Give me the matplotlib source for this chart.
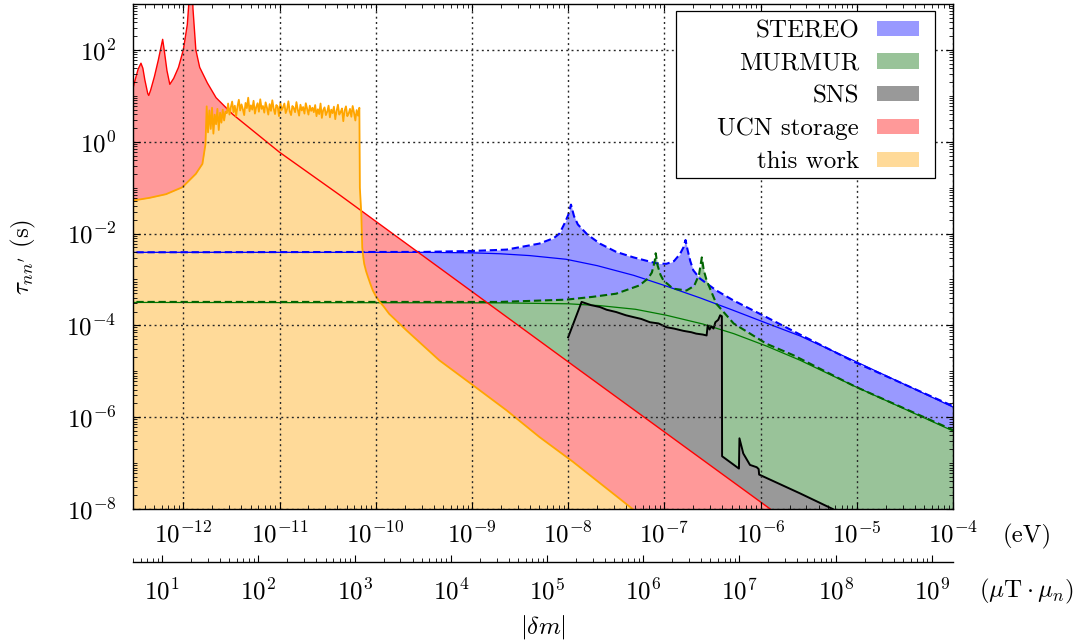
import numpy as np
import matplotlib
matplotlib.use("Agg")
import matplotlib.pyplot as plt
from matplotlib.patches import Patch, Rectangle
from matplotlib.ticker import LogLocator, FixedLocator, FuncFormatter, NullFormatter

plt.rcParams.update({
    "font.family": "cmr10",
    "mathtext.fontset": "cm",
    "axes.formatter.use_mathtext": True,
    "font.size": 18,
    "axes.unicode_minus": False,
})

# ---------------- data (x: |delta m| in eV, y: tau in s) ----------------
ucn_x = [2.95e-13, 3.16e-13, 3.39e-13, 3.63e-13, 3.80e-13, 3.98e-13, 4.27e-13, 4.37e-13,
         4.57e-13, 5.01e-13, 5.50e-13, 5.89e-13, 6.10e-13, 6.31e-13, 6.76e-13, 7.24e-13,
         7.94e-13, 8.91e-13, 1.00e-12, 1.10e-12, 1.15e-12, 1.20e-12, 1.26e-12, 1.35e-12,
         1.48e-12, 1.78e-12, 2.19e-12, 3.24e-12, 1.0e-11, 4.27e-11, 1.32e-8, 1e-4]
ucn_y = [12.6, 22.4, 38.0, 51.3, 39.8, 22.4, 11.2, 10.2,
         13.2, 26.3, 60.3, 120.0, 170.0, 105.0, 35.5, 17.8,
         24.0, 41.7, 100.0, 355.0, 1260.0, 3.0e4, 794.0, 100.0,
         41.7, 19.0, 9.1, 4.0, 0.59, 0.068, 1.05e-5, 1.26e-11]

this_left_x = [2.95e-13, 4.47e-13, 6.61e-13, 9.77e-13, 1.35e-12, 1.58e-12, 1.70e-12]
this_left_y = [0.052, 0.060, 0.072, 0.102, 0.20, 0.33, 0.89]
this_noise_range = (1.75e-12, 6.76e-11)
this_noise_y = [5.9, 1.6, 4.8, 1.9, 5.5, 1.5, 3.9, 2.4, 5.2, 1.8, 4.3, 2.6, 5.0, 2.9, 4.5,
                4.2, 6.8, 3.9, 5.6, 7.5, 4.4, 6.1, 3.6, 5.9, 8.2, 4.8, 6.5, 5.1, 3.8, 7.0,
                5.4, 9.1, 4.6, 6.2, 5.0, 7.8, 4.1, 5.7, 6.9, 4.5, 8.4, 5.2, 6.0, 4.3, 7.2,
                5.5, 3.9, 6.6, 4.7, 8.0, 5.3, 4.0, 6.3, 5.8, 3.6, 7.1, 4.9, 5.6, 6.8, 4.2,
                5.1, 7.6, 4.6, 3.8, 6.0, 5.4, 4.4, 7.3, 5.0, 3.7, 6.4, 4.8, 5.7, 4.1, 6.9,
                5.2, 3.9, 6.1, 4.7, 5.5,
                4.4, 6.3, 3.6, 5.1, 4.0, 6.8, 3.3, 4.9, 5.6, 3.8, 4.5, 6.1, 3.4, 5.0, 4.2,
                5.8, 3.1, 4.7, 6.4, 3.9, 4.4, 5.3, 2.8, 4.8, 5.9, 3.6, 4.1, 5.2, 3.5, 6.0,
                4.3, 2.9, 4.9, 3.7, 5.5]
this_right_x = [6.84e-11, 7.08e-11, 7.24e-11, 7.41e-11, 7.59e-11, 7.94e-11, 8.32e-11, 8.81e-11,
                9.33e-11, 1.0e-10, 1.10e-10, 1.20e-10, 1.38e-10, 2.09e-10, 4.57e-10, 1.02e-9,
                2.29e-9, 5.01e-9, 1.12e-8, 4.68e-8, 1e-7]
this_right_y = [0.1, 0.027, 5.0e-3, 3.16e-3, 2.19e-3, 1.51e-3, 1.12e-3, 7.94e-4,
                5.75e-4, 4.37e-4, 3.24e-4, 2.63e-4, 1.78e-4, 7.76e-5, 1.74e-5, 5.0e-6,
                1.41e-6, 3.72e-7, 1.07e-7, 1.0e-8, 2.8e-9]

sns_x = [1.0e-8, 1.38e-8, 1.74e-8, 2.14e-8, 2.51e-8, 3.16e-8, 3.98e-8, 4.79e-8, 5.75e-8,
         7.08e-8, 8.71e-8, 1.05e-7, 1.26e-7, 1.58e-7, 1.91e-7, 2.14e-7, 2.51e-7, 2.75e-7,
         2.82e-7, 2.95e-7, 3.09e-7, 3.24e-7, 3.39e-7, 3.63e-7, 3.80e-7, 3.96e-7, 3.98e-7,
         5.96e-7, 6.03e-7, 6.61e-7, 7.76e-7, 9.12e-7, 9.55e-7, 9.66e-7, 2.57e-6, 5.62e-6, 1e-5]
sns_y = [5.5e-5, 3.24e-4, 2.75e-4, 2.51e-4, 2.19e-4, 1.95e-4, 1.66e-4, 1.51e-4, 1.38e-4,
         1.17e-4, 1.10e-4, 9.12e-5, 8.51e-5, 7.59e-5, 7.08e-5, 6.61e-5, 6.31e-5, 6.03e-5,
         1.0e-4, 8.13e-5, 9.55e-5, 8.51e-5, 1.17e-4, 1.32e-4, 1.66e-4, 1.58e-4, 1.41e-7,
         7.59e-8, 3.47e-7, 1.62e-7, 9.12e-8, 8.13e-8, 7.41e-8, 5.62e-8, 2.19e-8, 1.0e-8, 5.0e-9]

stereo_x = [2.5e-13, 3.16e-10, 1e-9, 2.29e-9, 5.01e-9, 7.08e-9, 8.13e-9, 9.12e-9, 1.0e-8,
            1.07e-8, 1.15e-8, 1.26e-8, 1.58e-8, 2.14e-8, 3.16e-8, 4.79e-8, 8.32e-8, 1.05e-7,
            1.26e-7, 1.45e-7, 1.58e-7, 1.66e-7, 1.74e-7, 1.86e-7, 2.0e-7, 2.34e-7, 3.47e-7,
            5.25e-7, 1.15e-6, 2.57e-6, 9.55e-6, 1e-4]
stereo_y = [3.9e-3, 3.98e-3, 4.17e-3, 4.47e-3, 6.03e-3, 7.94e-3, 0.01, 0.0162, 0.0251,
            0.0427, 0.024, 0.0158, 9.55e-3, 6.03e-3, 3.98e-3, 3.02e-3, 2.24e-3, 2.19e-3,
            2.51e-3, 3.55e-3, 5.01e-3, 7.24e-3, 4.47e-3, 2.51e-3, 1.58e-3, 1.05e-3, 5.75e-4,
            3.47e-4, 1.51e-4, 6.31e-5, 1.58e-5, 1.74e-6]
stereo_fit_x = [2.5e-13, 3.16e-10, 1e-9, 1.95e-9, 3.98e-9, 9.55e-9, 2.0e-8, 4.79e-8, 1e-7,
                2.34e-7, 5.01e-7, 1.15e-6, 2.57e-6, 9.55e-6, 1e-4]
stereo_fit_y = [3.9e-3, 3.9e-3, 3.8e-3, 3.63e-3, 3.31e-3, 2.75e-3, 2.0e-3, 1.23e-3, 7.41e-4,
                3.98e-4, 2.19e-4, 1.12e-4, 5.89e-5, 1.66e-5, 1.66e-6]

murmur_x = [2.5e-13, 1.95e-9, 9.55e-9, 1.78e-8, 3.16e-8, 5.50e-8, 6.76e-8, 7.41e-8, 7.94e-8,
            8.13e-8, 8.51e-8, 9.12e-8, 9.77e-8, 1.23e-7, 1.70e-7, 2.04e-7, 2.29e-7, 2.45e-7,
            2.57e-7, 2.75e-7, 3.47e-7, 5.25e-7, 1.15e-6, 2.19e-6, 9.55e-6, 1e-4]
murmur_y = [3.24e-4, 3.24e-4, 3.63e-4, 4.17e-4, 4.90e-4, 7.41e-4, 1.05e-3, 1.41e-3, 2.51e-3,
            3.72e-3, 2.0e-3, 1.26e-3, 9.55e-4, 6.31e-4, 5.75e-4, 7.24e-4, 1.26e-3, 3.02e-3,
            1.58e-3, 9.55e-4, 2.95e-4, 1.10e-4, 3.98e-5, 2.24e-5, 4.68e-6, 5.25e-7]
murmur_fit_x = [2.5e-13, 1.95e-9, 1.0e-8, 2.14e-8, 5.01e-8, 1.05e-7, 2.51e-7, 5.25e-7,
                1.15e-6, 2.57e-6, 9.55e-6, 1e-4]
murmur_fit_y = [3.16e-4, 3.09e-4, 2.95e-4, 2.69e-4, 2.24e-4, 1.66e-4, 1.07e-4, 6.61e-5,
                3.55e-5, 1.74e-5, 4.68e-6, 5.01e-7]

legend_labels = ["STEREO", "MURMUR", "SNS", "UCN storage", "this work"]
ev_range = (3e-13, 1e-4)
tau_range = (1e-8, 1e3)
ev_xticks = [1e-12, 1e-11, 1e-10, 1e-9, 1e-8, 1e-7, 1e-6, 1e-5, 1e-4]
ut_xticks = [1e1, 1e2, 1e3, 1e4, 1e5, 1e6, 1e7, 1e8, 1e9]
tau_yticks = [1e-8, 1e-6, 1e-4, 1e-2, 1e0, 1e2]
mu_n = 6.03e-14  # eV per (muT * mu_n)

# ---------------- assemble ----------------
this_noise_x = np.geomspace(this_noise_range[0], this_noise_range[1], len(this_noise_y))
this_x = np.concatenate([this_left_x, this_noise_x, this_right_x])
this_y = np.concatenate([this_left_y, this_noise_y, this_right_y])

c_blue_f, c_green_f, c_gray_f, c_red_f, c_orange_f = "#9999ff", "#99c399", "#999999", "#ff9999", "#ffda99"

W, H = 1086, 643
fig = plt.figure(figsize=(W / 100, H / 100), dpi=100)
L, R, T, B = 133, 953, 4, 509
ax = fig.add_axes([L / W, 1 - B / H, (R - L) / W, (B - T) / H])
ax.set_xscale("log")
ax.set_yscale("log")


def axc(px, py):
    return (px - L) / (R - L), (B - py) / (B - T)


floor = 1e-10
ax.fill_between(stereo_x, floor, stereo_y, color=c_blue_f, lw=0)
ax.fill_between(murmur_x, floor, murmur_y, color=c_green_f, lw=0)
ax.fill_between(sns_x, floor, sns_y, color=c_gray_f, lw=0)
ax.fill_between(ucn_x, floor, ucn_y, color=c_red_f, lw=0)
ax.fill_between(this_x, floor, this_y, color=c_orange_f, lw=0)

ax.plot(stereo_fit_x, stereo_fit_y, color="blue", lw=0.9)
ax.plot(murmur_fit_x, murmur_fit_y, color="#007a00", lw=0.9)
ax.plot(stereo_x, stereo_y, color="blue", lw=1.5, ls=(0, (3.5, 1.8)))
ax.plot(murmur_x, murmur_y, color="#006400", lw=1.5, ls=(0, (3.5, 1.8)))
ax.plot(sns_x, sns_y, color="black", lw=1.4)
ax.plot(ucn_x, ucn_y, color="red", lw=1.0)
ax.plot(this_x, this_y, color="orange", lw=1.3)

ax.set_xlim(*ev_range)
ax.set_ylim(*tau_range)

fmt = FuncFormatter(lambda v, p: r"$10^{%d}$" % int(round(np.log10(v))))
ax.xaxis.set_major_locator(FixedLocator(ev_xticks))
ax.xaxis.set_minor_locator(LogLocator(base=10, subs=np.arange(2, 10), numticks=30))
ax.xaxis.set_minor_formatter(NullFormatter())
ax.yaxis.set_major_locator(FixedLocator(tau_yticks))
ax.yaxis.set_minor_locator(LogLocator(base=10, subs=np.arange(1, 10), numticks=30))
ax.yaxis.set_minor_formatter(NullFormatter())
ax.xaxis.set_major_formatter(fmt)
ax.yaxis.set_major_formatter(fmt)

ax.tick_params(which="both", direction="in", top=True, right=True, labelsize=18)
ax.tick_params(which="major", length=5, width=0.8)
ax.tick_params(which="minor", length=3, width=0.6)
ax.tick_params(axis="x", which="major", pad=9)
ax.tick_params(axis="y", which="major", pad=12)
for s in ax.spines.values():
    s.set_linewidth(1.0)

ax.set_axisbelow(False)
ax.grid(True, which="major", color="0.15", lw=1.0, ls=(0, (1.4, 2.4)))

ax.set_ylabel(r"$\tau_{nn^\prime}$ (s)", fontsize=18)
ax.yaxis.set_label_coords(-0.116, 0.5)

sec = ax.secondary_xaxis(-0.105, functions=(lambda e: e / mu_n, lambda u: u * mu_n))
sec.xaxis.set_major_locator(FixedLocator(ut_xticks))
sec.xaxis.set_minor_locator(LogLocator(base=10, subs=np.arange(2, 10), numticks=30))
sec.xaxis.set_minor_formatter(NullFormatter())
sec.xaxis.set_major_formatter(fmt)
sec.tick_params(which="both", direction="in", labelsize=18)
sec.tick_params(which="major", length=5, width=0.8, pad=12)
sec.tick_params(which="minor", length=3, width=0.6)
sec.spines["bottom"].set_linewidth(1.0)

fig.text(1052 / W, 1 - 536 / H, "(eV)", ha="right", va="center", fontsize=18)
fig.text(1074 / W, 1 - 591 / H, r"$(\mu\mathrm{T}\cdot\mu_n)$", ha="right", va="center", fontsize=18)
fig.text(543 / W, 1 - 627 / H, r"$|\delta m|$", ha="center", va="center", fontsize=18)

# legend frame (wider on the left, as in the reference)
fx0, fy0 = axc(676, 178)
fx1, fy1 = axc(935, 11)
ax.add_patch(Rectangle((fx0, fy0), fx1 - fx0, fy1 - fy0, transform=ax.transAxes,
                       facecolor="white", edgecolor="black", lw=0.9, zorder=4.9))

handles = [Patch(facecolor=c, edgecolor="none") for c in
           [c_blue_f, c_green_f, c_gray_f, c_red_f, c_orange_f]]
ax_anchor = axc(919, 20)
leg = ax.legend(handles, legend_labels, loc="upper right", bbox_to_anchor=ax_anchor,
                borderaxespad=0, borderpad=0, markerfirst=False, fontsize=18,
                handlelength=1.68, handleheight=0.56, handletextpad=0.72,
                labelspacing=0.42, frameon=False)
leg.set_zorder(5)

fig.savefig("out.png", dpi=100)
